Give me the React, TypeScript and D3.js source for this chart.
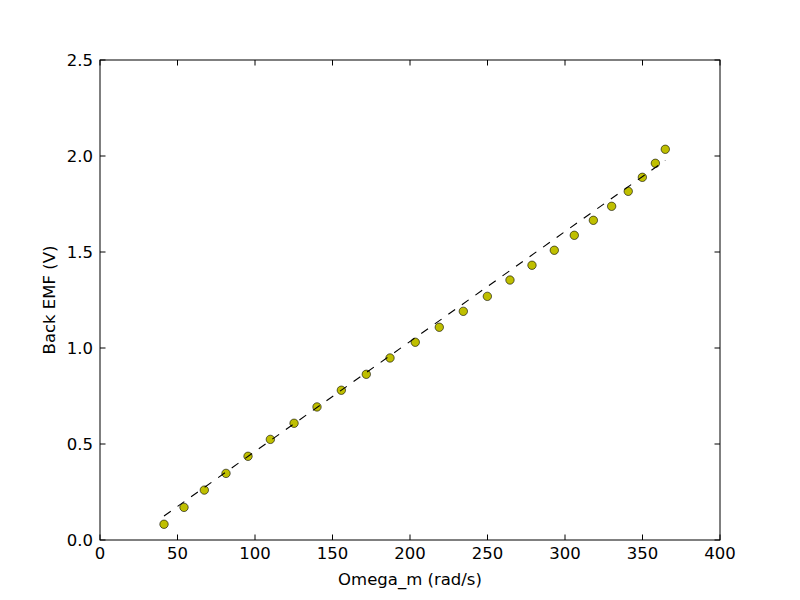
import React from "react";
import * as d3 from "d3";

const omega: number[] = [41.3, 54.2, 67.3, 81.3, 95.5, 109.9, 125.2, 140.0, 155.7, 171.8, 187.1, 203.4, 218.9, 234.4, 249.9, 264.5, 278.7, 293.1, 306.0, 318.3, 330.1, 340.8, 349.9, 358.3, 364.7];
const emf: number[] = [0.082, 0.170, 0.260, 0.347, 0.436, 0.524, 0.608, 0.693, 0.780, 0.863, 0.948, 1.030, 1.108, 1.191, 1.269, 1.354, 1.431, 1.509, 1.587, 1.665, 1.738, 1.816, 1.889, 1.962, 2.035];
const fitX: number[] = [41.3, 364.7];
const fitY: number[] = [0.125, 1.977];
const xTicks: number[] = [0, 50, 100, 150, 200, 250, 300, 350, 400];
const yTicks: number[] = [0, 0.5, 1.0, 1.5, 2.0, 2.5];

const W = 800, H = 600;
const L = 100, R = 720, T = 60, B = 540;
const FONT = "DejaVu Sans, sans-serif";
const FS = 16.5;

export default function App() {
  const x = d3.scaleLinear().domain([0, 400]).range([L, R]);
  const y = d3.scaleLinear().domain([0, 2.5]).range([B, T]);
  const line = d3.line<number>().x((d, i) => x(fitX[i])).y((d) => y(d));
  const tl = 5.5;
  return (
    <svg width={W} height={H} style={{ position: "absolute", left: 0, top: 0, background: "#fff" }}>
      <rect x={0} y={0} width={W} height={H} fill="#fff" />
      {omega.map((v, i) => (
        <circle key={i} cx={x(v)} cy={y(emf[i])} r={4.2} fill="#bfbf00" stroke="#000" strokeWidth={0.6} />
      ))}
      <path d={line(fitY) || ""} fill="none" stroke="#000" strokeWidth={1.1} strokeDasharray="8.3,8.3" />
      <rect x={L} y={T} width={R - L} height={B - T} fill="none" stroke="#000" strokeWidth={1} />
      {xTicks.map((t) => (
        <g key={"x" + t}>
          <line x1={x(t)} x2={x(t)} y1={B} y2={B - tl} stroke="#000" strokeWidth={1} />
          <line x1={x(t)} x2={x(t)} y1={T} y2={T + tl} stroke="#000" strokeWidth={1} />
          <text x={x(t)} y={559} textAnchor="middle" fontFamily={FONT} fontSize={FS}>{String(t)}</text>
        </g>
      ))}
      {yTicks.map((t) => (
        <g key={"y" + t}>
          <line x1={L} x2={L + tl} y1={y(t)} y2={y(t)} stroke="#000" strokeWidth={1} />
          <line x1={R} x2={R - tl} y1={y(t)} y2={y(t)} stroke="#000" strokeWidth={1} />
          <text x={93} y={y(t) + 6} textAnchor="end" fontFamily={FONT} fontSize={FS}>{t.toFixed(1)}</text>
        </g>
      ))}
      <text x={(L + R) / 2} y={585} textAnchor="middle" fontFamily={FONT} fontSize={FS}>Omega_m (rad/s)</text>
      <text transform={`translate(55,${(T + B) / 2}) rotate(-90)`} textAnchor="middle" fontFamily={FONT} fontSize={FS}>Back EMF (V)</text>
    </svg>
  );
}
